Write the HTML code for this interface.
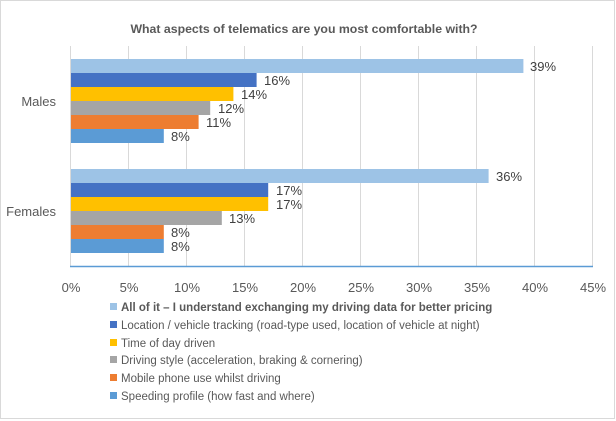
<!DOCTYPE html>
<html><head><meta charset="utf-8"><style>
body{margin:0;background:#fff;}
svg{display:block;font-family:"Liberation Sans",sans-serif;}
</style></head><body>
<svg width="616" height="421" viewBox="0 0 616 421">
<rect x="0.5" y="0.5" width="614" height="418" fill="#fff" stroke="#d9d9d9"/>
<text x="304" y="33" text-anchor="middle" font-size="12.3" font-weight="bold" fill="#595959">What aspects of telematics are you most comfortable with?</text>
<g stroke="#d9d9d9" stroke-width="1">
<line x1="128.5" y1="46" x2="128.5" y2="266"/><line x1="186.5" y1="46" x2="186.5" y2="266"/>
<line x1="244.5" y1="46" x2="244.5" y2="266"/><line x1="302.5" y1="46" x2="302.5" y2="266"/>
<line x1="360.5" y1="46" x2="360.5" y2="266"/><line x1="418.5" y1="46" x2="418.5" y2="266"/>
<line x1="476.5" y1="46" x2="476.5" y2="266"/><line x1="534.5" y1="46" x2="534.5" y2="266"/>
<line x1="592.5" y1="46" x2="592.5" y2="266"/><line x1="70.5" y1="46" x2="70.5" y2="266"/>
</g>
<g>
<rect x="71" y="59" width="452.4" height="14" fill="#9dc3e6"/>
<rect x="71" y="73" width="185.6" height="14" fill="#4472c4"/>
<rect x="71" y="87" width="162.4" height="14" fill="#ffc000"/>
<rect x="71" y="101" width="139.2" height="14" fill="#a5a5a5"/>
<rect x="71" y="115" width="127.6" height="14" fill="#ed7d31"/>
<rect x="71" y="129" width="92.8" height="14" fill="#5b9bd5"/>
<rect x="71" y="169" width="417.6" height="14" fill="#9dc3e6"/>
<rect x="71" y="183" width="197.2" height="14" fill="#4472c4"/>
<rect x="71" y="197" width="197.2" height="14" fill="#ffc000"/>
<rect x="71" y="211" width="150.8" height="14" fill="#a5a5a5"/>
<rect x="71" y="225" width="92.8" height="14" fill="#ed7d31"/>
<rect x="71" y="239" width="92.8" height="14" fill="#5b9bd5"/>
</g>
<line x1="70" y1="266.5" x2="593" y2="266.5" stroke="#5b9bd5" stroke-width="1.5"/>
<g font-size="13" fill="#404040">
<text x="530" y="71">39%</text><text x="264" y="85">16%</text><text x="241" y="99">14%</text>
<text x="218" y="113">12%</text><text x="206" y="127">11%</text><text x="171" y="141">8%</text>
<text x="496" y="181">36%</text><text x="276" y="195">17%</text><text x="276" y="209">17%</text>
<text x="229" y="223">13%</text><text x="171" y="237">8%</text><text x="171" y="251">8%</text>
</g>
<g font-size="13" fill="#595959" text-anchor="end">
<text x="56" y="106">Males</text><text x="56" y="216">Females</text>
</g>
<g font-size="13" fill="#595959" text-anchor="middle">
<text x="71" y="292">0%</text><text x="129" y="292">5%</text><text x="187" y="292">10%</text>
<text x="245" y="292">15%</text><text x="303" y="292">20%</text><text x="361" y="292">25%</text>
<text x="419" y="292">30%</text><text x="477" y="292">35%</text><text x="535" y="292">40%</text>
<text x="593" y="292">45%</text>
</g>
<g font-size="11.5" fill="#595959">
<rect x="110" y="303" width="7" height="7" fill="#9dc3e6"/><text x="121" y="311" font-weight="bold">All of it – I understand exchanging my driving data for better pricing</text>
<rect x="110" y="321" width="7" height="7" fill="#4472c4"/><text x="121" y="329">Location / vehicle tracking (road-type used, location of vehicle at night)</text>
<rect x="110" y="339" width="7" height="7" fill="#ffc000"/><text x="121" y="347">Time of day driven</text>
<rect x="110" y="356" width="7" height="7" fill="#a5a5a5"/><text x="121" y="364">Driving style (acceleration, braking &amp; cornering)</text>
<rect x="110" y="374" width="7" height="7" fill="#ed7d31"/><text x="121" y="382">Mobile phone use whilst driving</text>
<rect x="110" y="392" width="7" height="7" fill="#5b9bd5"/><text x="121" y="400">Speeding profile (how fast and where)</text>
</g>
</svg>
</body></html>
